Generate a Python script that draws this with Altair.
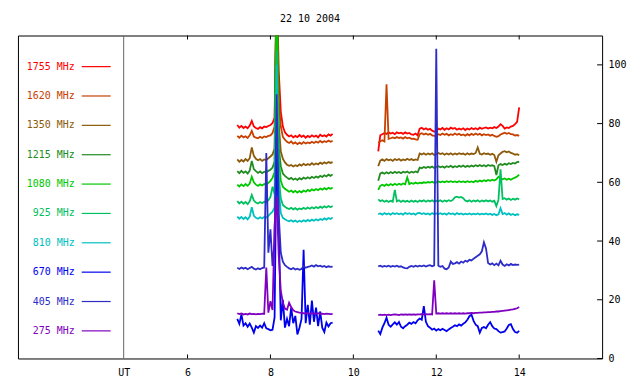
import altair as alt
import pandas as pd

TITLE = "22 10 2004"
FREQS = ["1755 MHz", "1620 MHz", "1350 MHz", "1215 MHz", "1080 MHz",
         "925 MHz", "810 MHz", "670 MHz", "405 MHz", "275 MHz"]
COLORS = ["#ff0000", "#c84000", "#8b5a0a", "#208c20", "#00c800",
          "#00c060", "#00c0c0", "#0000f0", "#2c2cc8", "#8000c0"]

X_TICKS = [6, 8, 10, 12, 14]
Y_TICKS = [0, 20, 40, 60, 80, 100]
UT_POS = 4.46

# sample times (UT hours) of the two observing intervals
T_A = [round(7.20 + 0.05 * i, 2) for i in range(47)]
T_B = [round(10.60 + 0.05 * j, 2) for j in range(69)]

F1755_A = [79.5, 78.6, 79.2, 78.5, 79.0, 78.4, 79.3, 80.9, 79.0, 78.5,
           78.2, 78.8, 78.4, 79.0, 78.8, 79.2, 79.5, 80.2, 82.0, 130,
           98, 84, 79, 77.0, 76.2, 75.6, 76.0, 75.3, 75.8, 75.4,
           76.1, 75.5, 75.9, 75.2, 75.8, 75.4, 76.0, 75.5, 75.9, 75.3,
           76.2, 75.7, 76.0, 75.6, 76.3, 75.9, 76.5]
F1755_B = [70.5, 76.0, 76.4, 76.8, 76.5, 77.0, 76.6, 76.9, 76.4, 77.0,
           76.7, 76.9, 76.5, 77.0, 76.6, 76.8, 76.3, 76.2, 76.6, 76.0,
           78.3, 78.6, 78.0, 78.4, 77.9, 78.2, 77.6, 77.3, 77.4, 78.3,
           78.0, 78.5, 77.9, 78.4, 78.0, 78.6, 78.2, 78.5, 77.9, 78.3,
           78.0, 78.4, 77.8, 78.3, 78.0, 78.5, 78.1, 78.4, 78.0, 78.6,
           78.2, 78.5, 78.7, 78.3, 78.6, 78.4, 78.8, 78.5, 79.0, 79.8,
           79.2, 78.3, 78.7, 78.5, 79.0, 79.2, 79.8, 80.6, 85.5]

F1620_A = [75.8, 75.2, 75.9, 75.3, 75.7, 75.1, 76.0, 77.5, 75.6, 75.2,
           75.0, 75.5, 75.1, 75.6, 75.4, 75.8, 76.0, 76.8, 79.0, 130,
           88, 79, 75.5, 74.5, 73.8, 73.4, 73.9, 73.2, 73.6, 73.0,
           73.5, 73.1, 73.7, 73.2, 73.6, 73.3, 73.8, 73.4, 73.9, 73.5,
           74.1, 73.6, 74.0, 73.7, 74.2, 73.8, 74.1]
F1620_B = [73.5, 74.0, 74.3, 73.9, 93.4, 74.8, 75.0, 75.3, 75.0, 75.4,
           75.1, 75.3, 74.9, 75.4, 75.0, 75.2, 74.8, 74.9, 74.6, 74.5,
           76.4, 76.7, 76.3, 76.6, 76.2, 76.5, 76.0, 75.8, 75.9, 76.4,
           76.1, 76.6, 76.2, 76.5, 76.0, 76.4, 76.1, 76.6, 76.2, 76.5,
           76.0, 76.3, 75.9, 76.4, 76.0, 76.5, 76.1, 76.6, 76.2, 76.5,
           76.0, 76.4, 76.1, 76.3, 75.9, 76.2, 75.8, 75.5, 75.7, 76.3,
           76.6, 76.9, 76.5, 76.8, 76.4, 76.3, 75.9, 76.1, 75.8]

F1350_A = [67.8, 67.0, 67.6, 67.1, 67.9, 67.3, 68.2, 71.9, 69.0, 68.0,
           67.5, 67.9, 67.3, 67.8, 67.6, 68.2, 68.8, 69.5, 71.5, 130,
           80, 70.5, 68.0, 66.8, 66.0, 65.6, 65.9, 65.4, 65.8, 65.5,
           66.1, 65.7, 66.3, 65.8, 66.2, 65.9, 66.5, 66.0, 66.4, 66.1,
           66.7, 66.3, 66.8, 66.4, 66.9, 66.6, 66.9]
F1350_B = [65.5, 67.4, 67.8, 67.3, 67.9, 67.5, 67.8, 67.3, 67.9, 67.6,
           67.9, 67.4, 67.8, 67.5, 68.0, 67.6, 67.9, 67.5, 67.8, 67.6,
           69.8, 69.5, 69.9, 69.4, 69.8, 69.5, 69.9, 69.3, 69.6, 70.0,
           69.6, 69.9, 69.4, 69.8, 69.5, 69.9, 69.4, 69.8, 69.5, 69.9,
           69.6, 69.8, 69.4, 69.9, 69.5, 69.8, 69.6, 70.0, 71.9, 69.7,
           69.5, 69.9, 69.6, 69.8, 69.4, 69.7, 69.3, 67.0, 69.2, 69.8,
           70.4, 70.6, 70.2, 70.5, 70.0, 69.8, 69.4, 69.6, 69.2]

F1215_A = [63.8, 63.1, 63.9, 63.2, 63.7, 63.0, 64.0, 67.3, 64.5, 63.8,
           63.2, 63.7, 63.1, 63.6, 63.4, 63.9, 64.3, 65.0, 67.0, 130,
           72, 65.5, 63.0, 62.2, 61.6, 61.1, 61.5, 60.9, 61.3, 60.8,
           61.4, 61.0, 61.6, 61.2, 61.7, 61.3, 61.9, 61.5, 62.0, 61.6,
           62.2, 61.8, 62.4, 62.0, 62.6, 62.2, 62.7]
F1215_B = [60.5, 63.0, 63.3, 62.9, 63.4, 63.0, 63.5, 63.1, 63.6, 63.2,
           63.5, 63.1, 63.6, 63.3, 63.7, 63.2, 63.6, 63.3, 63.7, 63.4,
           65.0, 64.8, 65.2, 64.9, 65.3, 65.0, 65.4, 64.9, 65.2, 65.5,
           65.1, 65.4, 65.0, 65.5, 65.2, 65.6, 65.1, 65.5, 65.2, 65.6,
           65.3, 65.7, 65.2, 65.6, 65.3, 65.7, 65.4, 65.8, 65.5, 65.9,
           65.5, 65.8, 65.4, 65.9, 65.6, 65.8, 65.5, 62.5, 65.8, 66.2,
           65.9, 66.3, 66.0, 66.5, 66.2, 66.6, 66.4, 66.9, 67.0]

F1080_A = [59.2, 58.6, 59.3, 58.7, 59.4, 58.8, 59.6, 61.9, 60.0, 59.2,
           58.8, 59.3, 58.9, 59.4, 59.2, 59.8, 60.5, 61.5, 63.5, 130,
           68, 60.5, 58.5, 57.8, 57.3, 56.8, 57.2, 56.6, 57.1, 56.5,
           57.0, 56.6, 57.2, 56.8, 57.4, 57.0, 57.6, 57.2, 57.7, 57.3,
           57.9, 57.5, 58.0, 57.6, 58.1, 57.8, 58.2]
F1080_B = [57.4, 58.8, 59.2, 58.8, 59.3, 58.9, 59.4, 59.0, 59.5, 59.1,
           59.5, 59.2, 59.6, 59.3, 61.7, 59.4, 59.8, 59.5, 59.9, 59.6,
           59.9, 59.7, 60.0, 59.8, 60.1, 59.9, 60.2, 59.8, 60.0, 60.3,
           60.0, 60.3, 60.0, 60.4, 60.1, 60.4, 60.1, 60.3, 60.0, 60.4,
           60.1, 60.3, 60.0, 60.4, 60.1, 60.3, 60.0, 60.5, 60.2, 60.6,
           60.3, 60.7, 60.4, 60.8, 60.5, 60.9, 60.6, 61.0, 61.9, 61.4,
           61.0, 61.3, 60.9, 61.2, 60.9, 61.3, 61.6, 62.0, 62.6]

F925_A = [53.6, 52.8, 53.4, 52.7, 53.3, 52.6, 53.5, 55.7, 53.8, 53.1,
          52.8, 53.3, 52.9, 53.4, 53.2, 53.9, 55.0, 58.5, 56.0, 105,
          62, 54.5, 52.3, 51.7, 51.2, 50.9, 51.3, 50.8, 51.2, 50.7,
          51.1, 50.8, 51.3, 50.9, 51.4, 51.0, 51.5, 51.1, 51.6, 51.2,
          51.7, 51.3, 51.8, 51.4, 51.9, 51.5, 51.9]
F925_B = [54.2, 53.6, 53.9, 53.4, 53.8, 53.3, 53.7, 53.4, 57.4, 53.5,
          53.9, 53.3, 53.8, 53.4, 53.7, 53.3, 53.8, 53.4, 53.7, 53.3,
          53.8, 53.5, 53.9, 53.4, 53.8, 53.5, 53.9, 53.4, 53.7, 53.5,
          53.9, 53.4, 53.8, 53.5, 53.9, 53.6, 54.0, 54.9, 55.1, 54.8,
          55.0, 54.6, 53.8, 53.5, 53.9, 53.4, 53.8, 53.5, 53.9, 53.4,
          53.8, 53.5, 53.9, 53.5, 53.8, 53.4, 53.7, 51.9, 54.0, 64.4,
          54.3, 54.6, 54.1, 54.5, 54.0, 54.4, 54.1, 54.5, 54.2]

F810_A = [48.3, 47.6, 48.2, 47.5, 48.1, 47.4, 48.3, 51.5, 48.6, 47.9,
          47.6, 48.1, 47.7, 48.2, 48.0, 48.6, 49.3, 50.0, 51.5, 100,
          58, 49.5, 47.9, 47.4, 47.0, 46.7, 47.1, 46.6, 47.0, 46.5,
          46.9, 46.6, 47.1, 46.7, 47.2, 46.8, 47.3, 46.9, 47.4, 47.0,
          47.5, 47.2, 47.7, 47.3, 47.8, 47.5, 48.0]
F810_B = [49.2, 49.4, 49.0, 49.5, 49.1, 49.4, 49.0, 49.5, 49.2, 49.5,
          49.1, 49.4, 49.0, 49.6, 49.2, 49.5, 49.1, 49.4, 49.0, 49.5,
          49.6, 49.2, 49.5, 49.1, 49.4, 49.0, 49.5, 49.1, 49.4, 49.2,
          49.5, 49.1, 49.4, 49.0, 49.5, 49.2, 49.4, 49.0, 49.5, 49.1,
          49.4, 49.0, 49.3, 49.1, 49.4, 49.0, 49.3, 49.1, 49.4, 49.0,
          49.3, 49.1, 49.4, 49.0, 49.3, 48.9, 49.2, 48.8, 49.1, 51.2,
          49.2, 49.5, 49.0, 49.4, 48.9, 49.2, 48.8, 49.1, 48.9]

F670_A = [13.5, 11.8, 15.0, 11.2, 12.0, 10.8, 11.9, 10.5, 8.8, 11.0,
          10.4, 11.2, 10.5, 12.0, 10.3, 10.0, 9.6, 9.8, 14.0, 75,
          45, 13.0, 20.0, 10.5, 13.5, 11.0, 17.3, 12.0, 14.5, 8.2,
          10.5, 13.5, 37.0, 12.0, 18.3, 11.5, 19.7, 12.5, 17.3, 11.0,
          16.0, 10.5, 9.0, 12.2, 10.9, 12.0, 12.2]
F670_B = [9.5, 8.3, 10.5, 12.0, 13.9, 11.5, 10.8, 11.6, 12.3, 11.5,
          12.4, 10.8, 10.3, 11.0, 11.5, 12.2, 11.8, 12.4, 12.0, 13.0,
          13.6, 13.2, 17.8, 12.5, 11.0, 10.5, 9.8, 10.2, 9.5, 10.0,
          9.6, 10.1, 9.7, 9.3, 9.9, 10.4, 10.8, 11.3, 11.0, 11.6,
          11.2, 11.8, 12.3, 13.2, 14.4, 14.9, 12.8, 11.5, 11.0, 8.8,
          10.4, 10.7, 10.3, 11.5, 12.4, 11.0, 10.2, 10.0, 9.3, 8.8,
          9.0, 9.2, 10.2, 11.4, 11.7, 10.0, 9.0, 8.8, 9.4]

F405_A = [30.9, 30.5, 31.0, 30.6, 30.9, 30.4, 30.8, 31.2, 30.6, 30.3,
          30.7, 30.4, 30.8, 31.0, 70.0, 36.0, 44.0, 31.5, 40.0, 90,
          49.0, 36.0, 33.0, 31.8, 31.2, 30.7, 30.4, 30.8, 30.3, 30.6,
          30.2, 30.5, 31.5, 30.9, 31.2, 31.4, 31.7, 31.3, 31.8, 31.4,
          31.6, 31.2, 31.5, 31.1, 31.4, 31.2, 31.3]
F405_B = [31.4, 31.6, 31.2, 31.5, 31.3, 31.6, 31.2, 31.5, 31.3, 31.6,
          31.2, 31.4, 31.0, 30.8, 30.7, 31.2, 31.5, 31.2, 31.6, 31.3,
          31.6, 31.4, 31.7, 31.3, 31.6, 31.8, 31.4, 31.7, 105.5, 31.6,
          31.2, 31.5, 30.6, 30.4, 31.0, 33.0, 32.2, 32.4, 32.8, 32.3,
          33.0, 32.6, 33.3, 33.0, 33.6, 33.4, 34.0, 34.5, 35.0, 35.5,
          36.5, 39.6, 37.5, 32.5, 32.0, 32.4, 31.8, 32.3, 31.7, 33.3,
          32.0, 31.5, 32.1, 31.7, 32.2, 31.8, 32.0, 31.9, 32.0]

F275_A = [15.4, 15.1, 15.3, 15.0, 15.2, 15.0, 15.3, 15.1, 15.2, 15.0,
          15.2, 15.1, 15.3, 15.2, 31.0, 15.6, 19.5, 16.5, 45.0, 55.0,
          35.0, 23.0, 19.0, 17.0, 16.6, 19.0, 17.5, 16.4, 16.0, 15.8,
          15.6, 15.5, 15.4, 15.3, 15.5, 15.2, 15.4, 15.3, 15.2, 15.4,
          15.2, 15.3, 15.1, 15.3, 15.2, 15.1, 15.2]
F275_B = [14.8, 14.9, 14.8, 14.9, 14.8, 14.9, 14.8, 14.9, 15.0, 14.9,
          14.8, 15.0, 14.9, 15.0, 14.9, 15.0, 14.9, 15.0, 14.9, 15.0,
          15.0, 15.1, 15.0, 15.1, 15.0, 15.1, 15.0, 26.6, 15.3, 15.4,
          15.3, 15.4, 15.3, 15.4, 15.3, 15.4, 15.3, 15.4, 15.3, 15.4,
          15.3, 15.4, 15.3, 15.4, 15.4, 15.5, 15.4, 15.5, 15.5, 15.6,
          15.6, 15.7, 15.7, 15.8, 15.8, 15.9, 15.9, 16.0, 16.0, 16.1,
          16.2, 16.3, 16.4, 16.5, 16.6, 16.7, 16.9, 17.1, 17.5]

SERIES = [
    ("1755 MHz", F1755_A, F1755_B), ("1620 MHz", F1620_A, F1620_B),
    ("1350 MHz", F1350_A, F1350_B), ("1215 MHz", F1215_A, F1215_B),
    ("1080 MHz", F1080_A, F1080_B), ("925 MHz", F925_A, F925_B),
    ("810 MHz", F810_A, F810_B), ("670 MHz", F670_A, F670_B),
    ("405 MHz", F405_A, F405_B), ("275 MHz", F275_A, F275_B),
]

rows = []
for name, a, b in SERIES:
    for t, v in zip(T_A, a):
        rows.append({"freq": name, "seg": name + " a", "t": t, "v": v})
    for t, v in zip(T_B, b):
        rows.append({"freq": name, "seg": name + " b", "t": t, "v": v})
df = pd.DataFrame(rows)

FONT = "DejaVu Sans Mono"
W, H = 586, 324

xscale = alt.Scale(domain=[1.91, 16], nice=False, zero=False)
yscale = alt.Scale(domain=[0, 110], nice=False, zero=False)
cscale = alt.Scale(domain=FREQS, range=COLORS)
kscale = alt.Scale(domain=FREQS, padding=1.044, align=0.53)

lines = alt.Chart(df).mark_line(clip=True, strokeWidth=1.8).encode(
    x=alt.X("t:Q", scale=xscale, title=None,
            axis=alt.Axis(values=[UT_POS] + X_TICKS,
                          labelExpr="datum.value < 5 ? 'UT' : datum.label",
                          tickSize=0, domain=False, grid=False,
                          labelFont=FONT, labelFontSize=10, labelColor="black",
                          labelPadding=9, labelOverlap=False)),
    y=alt.Y("v:Q", scale=yscale, title=None,
            axis=alt.Axis(orient="right", values=Y_TICKS, tickSize=0,
                          domain=False, grid=False, labelFont=FONT,
                          labelFontSize=10, labelColor="black",
                          labelPadding=6)),
    color=alt.Color("freq:N", scale=cscale, legend=None),
    detail="seg:N",
)

ut_line = alt.Chart(pd.DataFrame({"t": [UT_POS]})).mark_rule(
    color="#666666", strokeWidth=1).encode(x=alt.X("t:Q", scale=xscale))

xt = pd.DataFrame({"t": X_TICKS})
bottom_ticks = alt.Chart(xt).mark_rule(color="black").encode(
    x=alt.X("t:Q", scale=xscale), y=alt.value(H), y2=alt.value(H - 4))
top_ticks = alt.Chart(xt).mark_rule(color="black").encode(
    x=alt.X("t:Q", scale=xscale), y=alt.value(0), y2=alt.value(4))
right_ticks = alt.Chart(pd.DataFrame({"v": Y_TICKS})).mark_rule(color="black").encode(
    y=alt.Y("v:Q", scale=yscale, axis=None), x=alt.value(W), x2=alt.value(W - 5))

kdf = pd.DataFrame({"freq": FREQS})
key_text = alt.Chart(kdf).mark_text(align="right", baseline="middle",
                                    font=FONT, fontSize=10).encode(
    x=alt.value(57),
    y=alt.Y("freq:N", scale=kscale, axis=None),
    text="freq:N",
    color=alt.Color("freq:N", scale=cscale, legend=None),
)
key_line = alt.Chart(kdf).mark_rule(strokeWidth=1.2).encode(
    x=alt.value(64), x2=alt.value(93),
    y=alt.Y("freq:N", scale=kscale, axis=None),
    color=alt.Color("freq:N", scale=cscale, legend=None),
)

chart = alt.layer(
    ut_line, lines, bottom_ticks, top_ticks, right_ticks, key_text, key_line
).resolve_scale(y="independent").properties(
    width=W, height=H,
    title=alt.TitleParams(TITLE, font=FONT, fontSize=10, fontWeight="normal",
                          color="black", anchor="middle", frame="group",
                          baseline="alphabetic", offset=3),
    autosize=alt.AutoSizeParams(type="none"),
    padding={"left": 10, "top": 27, "right": 30, "bottom": 22},
).configure_view(stroke="black", strokeWidth=1).configure_axis(grid=False)

chart.save("out.html", embed_options={"renderer": "svg", "actions": False})
